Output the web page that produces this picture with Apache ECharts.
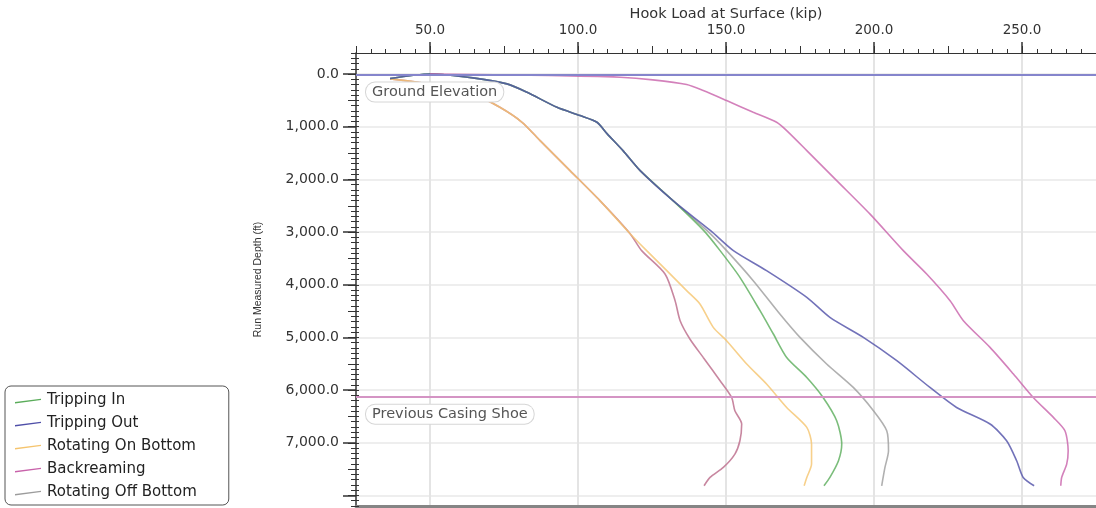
<!DOCTYPE html>
<html lang="en">
<head>
    <meta charset="UTF-8">
    <title>Hook Load at Surface</title>
    <script src="https://cdn.jsdelivr.net/npm/echarts@6/dist/echarts.min.js"></script>
    <style>
        html, body { margin: 0; padding: 0; background: #fff; }
        #chart { width: 1096px; height: 508px; }
    </style>
</head>
<body>
<div id="chart"></div>
<script type="text/javascript">
    // [hook load (kip), run measured depth (ft)]
    var trippingIn = [[36.5, 85], [50, 0], [64.5, 72], [76, 186], [82.8, 346], [92.9, 631], [100.7, 788], [106.4, 915],
        [109.8, 1130], [115.2, 1453], [121, 1833], [132.1, 2403], [142.5, 2973], [148, 3352], [154.7, 3859],
        [161.5, 4492], [166, 4935], [170.5, 5379], [177.3, 5759], [182.8, 6139], [187.4, 6581], [189.1, 7024],
        [188, 7341], [185.1, 7658], [183.1, 7816]];
    var trippingOut = [[36.5, 85], [50, 0], [64.5, 72], [76, 186], [82.8, 346], [92.9, 631], [100.7, 788], [106.4, 915],
        [109.8, 1130], [115.2, 1453], [121, 1833], [132.1, 2403], [144.8, 2973], [152.5, 3352], [163.7, 3732],
        [177.3, 4239], [185.1, 4619], [196.4, 4999], [207.7, 5442], [218.9, 5949], [227.9, 6329], [239.2, 6644],
        [244.8, 6961], [248.2, 7341], [250.4, 7658], [254.1, 7816]];
    var rotatingOnBottom = [[36.5, 91], [53.4, 218], [64.5, 376], [73.6, 631], [81.1, 915], [87.2, 1263], [97.3, 1833],
        [107.4, 2403], [117.6, 3030], [123.2, 3352], [130, 3732], [136.7, 4112], [141.2, 4365], [145.7, 4809],
        [150.2, 5062], [157, 5504], [163.7, 5884], [170.5, 6329], [177.3, 6708], [178.9, 7024], [178.9, 7404],
        [177.3, 7658], [176.4, 7816]];
    var backreaming = [[50, 0], [90, 25], [114.2, 61], [125.3, 110], [136.7, 199], [142.3, 313], [150.2, 503],
        [159.2, 726], [167.1, 915], [170.5, 1073], [177.3, 1453], [187.4, 2023], [198.6, 2655], [209.9, 3352],
        [217.8, 3795], [225.7, 4302], [230.2, 4682], [239.2, 5189], [247.1, 5694], [253.8, 6139], [260.6, 6518],
        [264.5, 6771], [265.6, 7151], [265.1, 7404], [263.4, 7658], [263.1, 7816]];
    var rotatingOffBottom = [[36.5, 85], [50, 0], [64.5, 72], [76, 186], [82.8, 346], [92.9, 631], [100.7, 788],
        [106.4, 915], [109.8, 1130], [115.2, 1453], [121, 1833], [132.1, 2403], [143.6, 2973], [150.2, 3352],
        [159.2, 3922], [168.2, 4555], [175, 4999], [184, 5504], [193, 5949], [199.8, 6391], [204.3, 6771],
        [204.9, 7151], [203.7, 7468], [202.6, 7816]];
    // curve without legend entry (lowest load)
    var slackOff = [[36.5, 91], [53.4, 218], [64.5, 376], [73.6, 631], [81.1, 915], [87.2, 1263], [97.3, 1833],
        [107.4, 2403], [117.6, 3030], [121.5, 3352], [129.4, 3795], [132.8, 4302], [134.5, 4682], [137.8, 5029],
        [142.3, 5379], [148, 5821], [151.9, 6139], [153, 6391], [155.3, 6644], [154.7, 6961], [153, 7214],
        [149.1, 7468], [144.6, 7658], [142.6, 7816]];

    var seriesNames = ['Tripping In', 'Tripping Out', 'Rotating On Bottom', 'Backreaming', 'Rotating Off Bottom'];
    var seriesColors = ['#5aac5a', '#4f4fa8', '#f5c46e', '#c862aa', '#9c9c9c'];

    var loadTicks = [50, 100, 150, 200, 250];
    var depthTicks = [0, 1000, 2000, 3000, 4000, 5000, 6000, 7000, 8000];
    var depthLabels = [0, 1000, 2000, 3000, 4000, 5000, 6000, 7000];
    var depthHalfTicks = [0, 500, 1000, 1500, 2000, 2500, 3000, 3500, 4000, 4500, 5000, 5500, 6000, 6500, 7000, 7500, 8000];

    var markers = [
        {name: 'Ground Elevation', depth: 10, color: '#8585cc'},
        {name: 'Previous Casing Shoe', depth: 6125, color: '#d494c4'}
    ];

    var xMin = 25, xMax = 275, yMin = -400, yMax = 8200;
    var font = 'DejaVu Sans';

    var chart = echarts.init(document.getElementById('chart'));

    function fmtDepth(v) {
        return v.toLocaleString('en-US', {minimumFractionDigits: 1, maximumFractionDigits: 1});
    }

    function xAxisBase(extra) {
        var a = {
            type: 'value', position: 'top', min: xMin, max: xMax,
            axisLine: {show: false, onZero: false},
            axisTick: {show: false},
            axisLabel: {show: false},
            splitLine: {show: false}
        };
        return Object.assign(a, extra);
    }

    function yAxisBase(extra) {
        var a = {
            type: 'value', position: 'left', inverse: true, min: yMin, max: yMax,
            axisLine: {show: false, onZero: false},
            axisTick: {show: false},
            axisLabel: {show: false},
            splitLine: {show: false}
        };
        return Object.assign(a, extra);
    }

    var lineData = [trippingIn, trippingOut, rotatingOnBottom, backreaming, rotatingOffBottom];
    var drawOrder = [2, 4, 0, 1, 3];

    var series = [{
        id: 'slackOff',
        type: 'line',
        data: slackOff,
        showSymbol: false,
        symbol: 'none',
        smooth: 0.25,
        color: '#c27a96',
        lineStyle: {color: '#c27a96', width: 1.6, opacity: 0.9}
    }];
    drawOrder.forEach(function (i) {
        series.push({
            name: seriesNames[i],
            type: 'line',
            data: lineData[i],
            showSymbol: false,
            symbol: 'none',
            smooth: 0.25,
            color: seriesColors[i],
            itemStyle: {color: seriesColors[i]},
            lineStyle: {color: seriesColors[i], width: 1.6, opacity: 0.8}
        });
    });
    series.push({
        id: 'markers',
        type: 'line',
        data: [],
        markLine: {
            silent: true,
            symbol: ['none', 'none'],
            animation: false,
            data: markers.map(function (m) {
                return {
                    name: m.name,
                    yAxis: m.depth,
                    lineStyle: {color: m.color, width: 2.2, type: 'solid'}
                };
            }),
            label: {
                show: true,
                position: 'insideStartBottom',
                formatter: '{b}',
                distance: [10, 8],
                fontFamily: font,
                fontSize: 14.5,
                color: '#555',
                backgroundColor: '#fff',
                borderColor: '#d6d6d6',
                borderWidth: 1,
                borderRadius: 9,
                padding: [2, 6]
            }
        }
    });

    var option = {
        animation: false,
        backgroundColor: '#fff',
        grid: {left: 356, top: 53, right: 0, bottom: 2, containLabel: false, outerBoundsMode: 'none'},
        legend: {
            data: seriesNames,
            orient: 'vertical',
            left: 5,
            top: 386,
            height: 114,
            itemWidth: 28,
            itemHeight: 14,
            itemGap: 8,
            icon: 'path://M0,0 M28,14 M1,8.6 L27,5.2 L27,6.6 L1,10 Z',
            textStyle: {fontFamily: font, fontSize: 15, color: '#222'},
            backgroundColor: '#fff',
            borderColor: '#555',
            borderWidth: 1,
            borderRadius: 6,
            padding: [7, 32, 5, 9]
        },
        xAxis: [
            xAxisBase({
                interval: 5,
                axisLine: {show: true, onZero: false, lineStyle: {color: '#333', width: 1.2}},
                axisTick: {show: true, length: 4, lineStyle: {color: '#333'}}
            }),
            xAxisBase({
                interval: 25,
                axisTick: {show: true, length: 7, lineStyle: {color: '#333'}}
            }),
            xAxisBase({
                name: 'Hook Load at Surface (kip)',
                nameLocation: 'middle',
                nameGap: 31,
                nameMoveOverlap: false,
                nameTextStyle: {fontFamily: font, fontSize: 14.5, color: '#333'},
                axisTick: {show: true, customValues: loadTicks, length: 11, lineStyle: {color: '#333', width: 1.5}},
                axisLabel: {
                    show: true, customValues: loadTicks, margin: 16,
                    fontFamily: font, fontSize: 13.5, color: '#333',
                    formatter: function (v) { return v.toFixed(1); }
                },
                splitLine: {show: true, lineStyle: {color: '#e4e4e4', width: 2}}
            }),
            xAxisBase({
                position: 'bottom',
                axisLine: {show: true, onZero: false, lineStyle: {color: '#858585', width: 3}}
            })
        ],
        yAxis: [
            yAxisBase({
                interval: 100,
                axisLine: {show: true, onZero: false, lineStyle: {color: '#333', width: 1.5}},
                axisTick: {show: true, length: 5, lineStyle: {color: '#333'}}
            }),
            yAxisBase({
                interval: 100,
                axisTick: {show: true, inside: true, length: 3, lineStyle: {color: '#333'}}
            }),
            yAxisBase({
                axisTick: {show: true, customValues: depthHalfTicks, length: 8, lineStyle: {color: '#333'}}
            }),
            yAxisBase({
                name: 'Run Measured Depth (ft)',
                nameLocation: 'middle',
                nameGap: 92,
                nameTextStyle: {fontFamily: 'Liberation Sans', fontSize: 10.5, color: '#333'},
                axisTick: {show: true, customValues: depthTicks, length: 13, lineStyle: {color: '#333', width: 1.5}},
                axisLabel: {
                    show: true, customValues: depthLabels, margin: 17,
                    fontFamily: font, fontSize: 14, color: '#333',
                    formatter: fmtDepth
                },
                splitLine: {show: true, lineStyle: {color: '#e8e8e8', width: 1.5}}
            })
        ],
        series: series
    };
    chart.setOption(option);
</script>
</body>
</html>
